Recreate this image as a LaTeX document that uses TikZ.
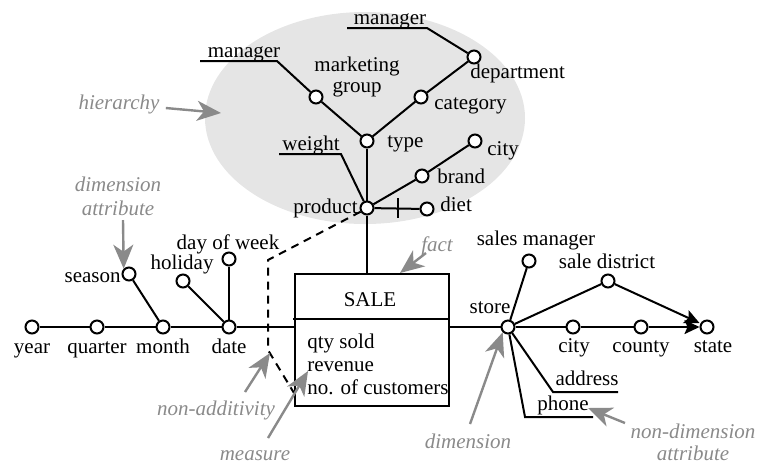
\documentclass[tikz,border=0pt]{standalone}
\usepackage{fontspec}
\setmainfont{Liberation Serif}
\usetikzlibrary{
  positioning,
  arrows.meta
}
\definecolor{hierfill}{HTML}{E5E5E5}
\definecolor{note}{HTML}{8A8A8A}

\begin{document}
\begin{tikzpicture}[
  x=0.5pt, y=-0.5pt,
  font=\fontsize{10.5}{12}\selectfont,
  attr/.style={circle, draw, fill=white, line width=1pt, minimum size=6.5pt, inner sep=0pt},
  lbl/.style={inner sep=0pt, anchor=base},
  link/.style={line width=1pt},
  dashlink/.style={line width=1pt, dash pattern=on 4pt off 3pt},
  ann/.style={font=\fontsize{10.5}{12}\selectfont\itshape, text=note, inner sep=0pt, anchor=base},
  annarr/.style={-{Stealth[length=12pt, width=10pt, inset=3.5pt]}, note, line width=1.2pt},
  toarr/.style={-{Stealth[length=7.5pt, width=7pt, inset=1.5pt]}, line width=1pt}
]
  \useasboundingbox (0,0) rectangle (759,463);

  % Hierarchy area
  \fill[hierfill] (365,118) ellipse [x radius=80pt, y radius=53pt];

  % Product hierarchy
  \node[attr] (prod) at (367,208) {};
  \node[attr] (type) at (367,141) {};
  \node[attr] (mgrp) at (316,97) {};
  \node[attr] (cat)  at (421,97) {};
  \node[attr] (dept) at (474,57) {};
  \node[attr] (brand) at (422,176) {};
  \node[attr] (pcity) at (475,141) {};
  \node[attr] (diet) at (427,209) {};

  \coordinate (mgrpm1) at (277,61);
  \coordinate (mgrpm2) at (200,61);
  \coordinate (deptm1) at (427,28);
  \coordinate (deptm2) at (347,28);
  \coordinate (wgt1) at (341,154);
  \coordinate (wgt2) at (279,154);
  \coordinate (tick) at (398,208);

  \draw[link] (prod) -- (type);
  \draw[link] (type) -- (mgrp);
  \draw[link] (type) -- (cat);
  \draw[link] (cat) -- (dept);
  \draw[link] (prod) -- (brand);
  \draw[link] (brand) -- (pcity);
  \draw[link] (prod) -- (diet);
  \draw[link] ([yshift=5pt]tick) -- ([yshift=-5pt]tick);
  \draw[link] (mgrp) -- (mgrpm1) -- (mgrpm2);
  \draw[link] (dept) -- (deptm1) -- (deptm2);
  \draw[link] (prod) -- (wgt1) -- (wgt2);

  \node[lbl] at (390,24) {manager};
  \node[lbl] at (244,57) {manager};
  \node[lbl] at (357,71) {marketing};
  \node[lbl] at (357,92) {group};
  \node[lbl, anchor=base west] at (470,78) {department};
  \node[lbl, anchor=base west] at (434,109) {category};
  \node[lbl, anchor=base west] at (387,147) {type};
  \node[lbl] at (311,150) {weight};
  \node[lbl, anchor=base west] at (487,155) {city};
  \node[lbl, anchor=base west] at (437,183) {brand};
  \node[lbl, anchor=base west] at (440,211) {diet};
  \node[lbl, anchor=base east] at (358,213) {product};

  % Fact
  \node[draw, line width=1pt, minimum width=77pt, minimum height=66pt, inner sep=0pt] (sale) at (372,340) {};
  \coordinate (div1) at (293,319);
  \coordinate (div2) at (sale.east |- div1);
  \draw[link] (div1) -- (div2);
  \node[lbl] at (370,306) {SALE};
  \node[lbl, anchor=base west] at (307,348) {qty sold};
  \node[lbl, anchor=base west] at (307,371) {revenue};
  \node[lbl, anchor=base west] at (307,394) {no. of customers};
  \draw[link] (prod) -- (prod |- sale.north);

  % Time dimension
  \node[attr] (year) at (32,327) {};
  \node[attr] (quarter) at (97,327) {};
  \node[attr] (month) at (163,327) {};
  \node[attr] (date) at (229,327) {};
  \node[attr] (season) at (129,274) {};
  \node[attr] (holiday) at (183,281) {};
  \node[attr] (dow) at (229,259) {};

  \draw[link] (year) -- (quarter);
  \draw[link] (quarter) -- (month);
  \draw[link] (month) -- (date);
  \draw[link] (date) -- (date -| sale.west);
  \draw[link] (month) -- (season);
  \draw[link] (date) -- (holiday);
  \draw[link] (date) -- (dow);

  \node[lbl] at (32,353) {year};
  \node[lbl] at (97,353) {quarter};
  \node[lbl] at (163,353) {month};
  \node[lbl] at (229,353) {date};
  \node[lbl, anchor=base east] at (121,282) {season};
  \node[lbl] at (182,269) {holiday};
  \node[lbl] at (228,249) {day of week};

  % Store dimension
  \node[attr] (store) at (508,327) {};
  \node[attr] (smgr) at (529,261) {};
  \node[attr] (sdist) at (608,281) {};
  \node[attr] (scity) at (573,327) {};
  \node[attr] (county) at (641,327) {};
  \node[attr] (state) at (707,327) {};
  \coordinate (addr1) at (553,392);
  \coordinate (addr2) at (618,392);
  \coordinate (phone1) at (525,417);
  \coordinate (phone2) at (593,417);

  \draw[link] (sale.east |- store) -- (store);
  \draw[link] (store) -- (smgr);
  \draw[link] (store) -- (sdist);
  \draw[link] (store) -- (scity);
  \draw[link] (scity) -- (county);
  \draw[toarr] (county) -- (state);
  \draw[toarr] (sdist) -- ([yshift=2pt]state.west);
  \draw[link] (store) -- (addr1) -- (addr2);
  \draw[link] (store) -- (phone1) -- (phone2);

  \node[lbl] at (490,313) {store};
  \node[lbl] at (536,245) {sales manager};
  \node[lbl] at (607,268) {sale district};
  \node[lbl] at (574,352) {city};
  \node[lbl] at (641,352) {county};
  \node[lbl] at (713,352) {state};
  \node[lbl] at (587,385) {address};
  \node[lbl] at (563,410) {phone};

  % Non-additivity
  \coordinate (na1) at (268,260);
  \coordinate (na2) at (268,350);
  \coordinate (na3) at (sale.west |- 0,393);
  \draw[dashlink] (prod.210) -- (na1) -- (na2) -- (na3);

  % Annotations
  \node[ann] (thier) at (119,109) {hierarchy};
  \coordinate (ahier) at (221,113);
  \draw[annarr] (thier.base east) ++(6,-1) -- (ahier);

  \node[ann] (tdima1) at (118,191) {dimension};
  \node[ann] (tdima2) at (118,215) {attribute};
  \draw[annarr] (123,220) -- (season.north west);

  \node[ann] (tnadd) at (216,415) {non-additivity};
  \draw[annarr] (245,392) -- (270,353);

  \node[ann] (tmeas) at (255,460) {measure};
  \draw[annarr] (268,438) -- (308,371);

  \node[ann] (tfact) at (437,251) {fact};
  \draw[annarr] (426,253) -- (400,273);

  \node[ann] (tdim) at (468,448) {dimension};
  \draw[annarr] (470,424) -- (store.south west);

  \node[ann] (tndim1) at (693,438) {non-dimension};
  \node[ann] (tndim2) at (693,460) {attribute};
  \draw[annarr] (625,423) -- (588,408);
\end{tikzpicture}
\end{document}
